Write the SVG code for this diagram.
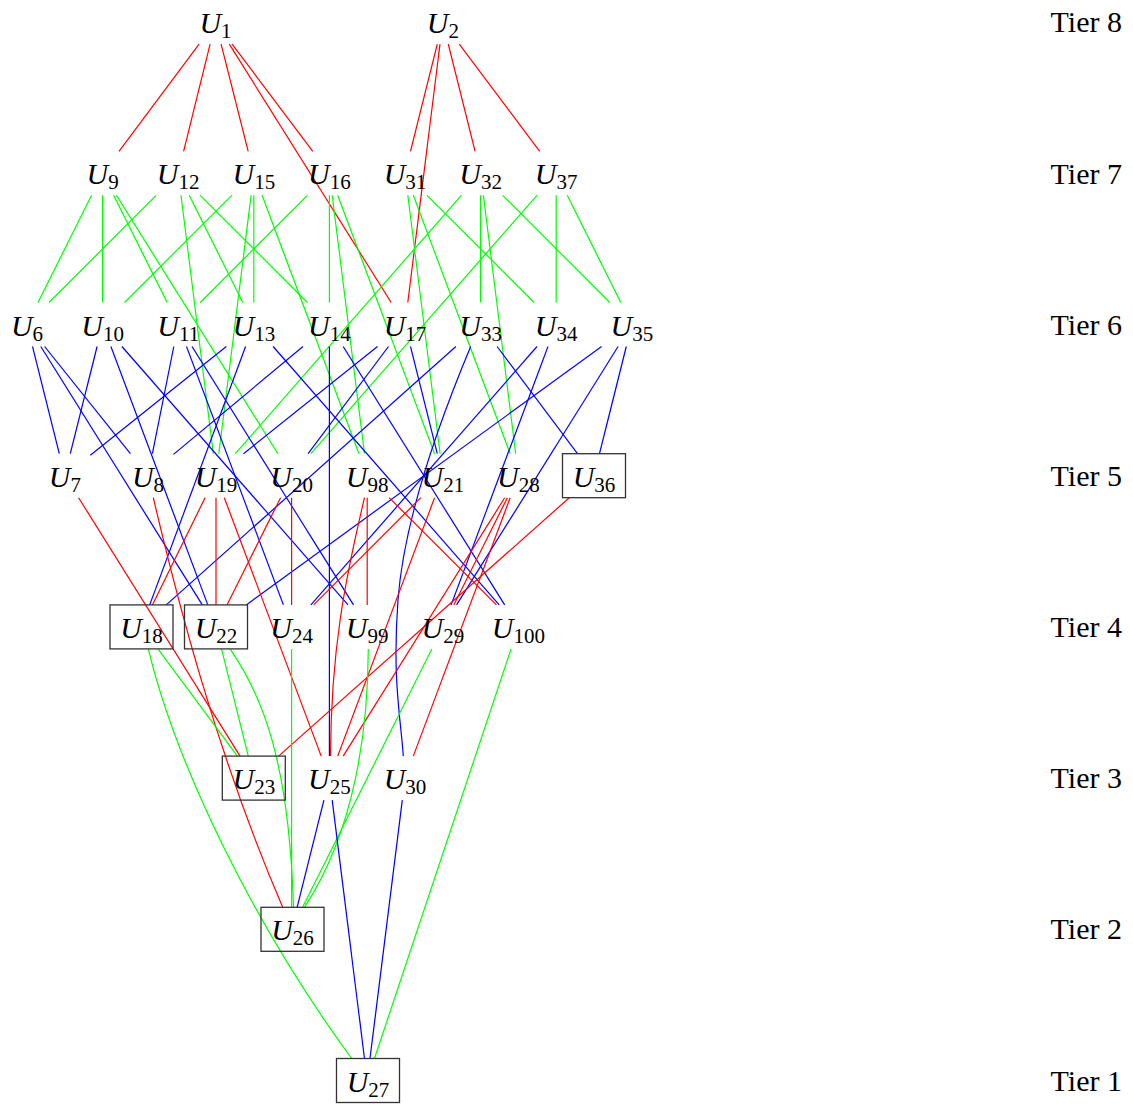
<svg xmlns="http://www.w3.org/2000/svg" width="1133" height="1106" viewBox="0 0 1133 1106">
<style>
.e line,.e path{fill:none;stroke-width:1.2}
.r{stroke:#ff0000}.g{stroke:#00ff00}.b{stroke:#0000ff}
.n{font-family:"Liberation Serif",serif;font-style:italic;font-size:30px;text-anchor:middle;fill:#000}
.s{font-style:normal;font-size:21px}
.t{font-family:"Liberation Serif",serif;font-size:30px;text-anchor:end;fill:#000}
.bx{fill:none;stroke:#333;stroke-width:1.3}
</style>
<rect width="1133" height="1106" fill="#fff"/>
<g id="connectors" class="e">
<line class="r" x1="199.1" y1="44.1" x2="119" y2="151.3"/>
<line class="r" x1="210.1" y1="44.1" x2="183.6" y2="151.3"/>
<line class="r" x1="221.1" y1="44.1" x2="248.2" y2="151.3"/>
<line class="r" x1="232.1" y1="44.1" x2="312.8" y2="151.3"/>
<line class="r" x1="229.3" y1="44.1" x2="391.2" y2="302.5"/>
<line class="r" x1="437.3" y1="44.1" x2="410.5" y2="151.3"/>
<line class="r" x1="440" y1="44.1" x2="407.8" y2="302.5"/>
<line class="r" x1="448.3" y1="44.1" x2="475.1" y2="151.3"/>
<line class="r" x1="459.3" y1="44.1" x2="539.7" y2="151.3"/>
<line class="g" x1="91.6" y1="195.3" x2="38" y2="302.5"/>
<line class="g" x1="102.6" y1="195.3" x2="102.6" y2="302.5"/>
<line class="g" x1="113.6" y1="195.3" x2="167.2" y2="302.5"/>
<line class="g" x1="116.4" y1="195.3" x2="277.9" y2="453.7"/>
<line class="g" x1="156.2" y1="195.3" x2="49" y2="302.5"/>
<line class="g" x1="181" y1="195.3" x2="213.3" y2="453.7"/>
<line class="g" x1="189.2" y1="195.3" x2="242.8" y2="302.5"/>
<line class="g" x1="200.2" y1="195.3" x2="307.4" y2="302.5"/>
<line class="g" x1="231.8" y1="195.3" x2="124.6" y2="302.5"/>
<line class="g" x1="251.1" y1="195.3" x2="218.8" y2="453.7"/>
<line class="g" x1="253.8" y1="195.3" x2="253.8" y2="302.5"/>
<line class="g" x1="262.1" y1="195.3" x2="359" y2="453.7"/>
<line class="g" x1="307.4" y1="195.3" x2="200.2" y2="302.5"/>
<line class="g" x1="329.4" y1="195.3" x2="329.4" y2="302.5"/>
<line class="g" x1="332.2" y1="195.3" x2="364.5" y2="453.7"/>
<line class="g" x1="337.7" y1="195.3" x2="434.6" y2="453.7"/>
<line class="g" x1="407.8" y1="195.3" x2="440.1" y2="453.7"/>
<line class="g" x1="413.3" y1="195.3" x2="510.2" y2="453.7"/>
<line class="g" x1="427" y1="195.3" x2="534.2" y2="302.5"/>
<line class="g" x1="461.4" y1="195.3" x2="235.3" y2="453.7"/>
<line class="g" x1="480.6" y1="195.3" x2="480.6" y2="302.5"/>
<line class="g" x1="483.4" y1="195.3" x2="515.7" y2="453.7"/>
<line class="g" x1="502.6" y1="195.3" x2="609.8" y2="302.5"/>
<line class="g" x1="537" y1="195.3" x2="310.9" y2="453.7"/>
<line class="g" x1="556.2" y1="195.3" x2="556.2" y2="302.5"/>
<line class="g" x1="567.2" y1="195.3" x2="620.8" y2="302.5"/>
<line class="b" x1="32.5" y1="346.5" x2="59.3" y2="453.7"/>
<line class="b" x1="40.8" y1="346.5" x2="202.3" y2="604.9"/>
<line class="b" x1="44.6" y1="346.5" x2="130.4" y2="453.7"/>
<line class="b" x1="97.1" y1="346.5" x2="70.3" y2="453.7"/>
<line class="b" x1="110.9" y1="346.5" x2="207.8" y2="604.9"/>
<line class="b" x1="121.9" y1="346.5" x2="348" y2="604.9"/>
<line class="b" x1="173.8" y1="346.5" x2="152.4" y2="453.7"/>
<line class="b" x1="186.5" y1="346.5" x2="283.4" y2="604.9"/>
<line class="b" x1="192" y1="346.5" x2="353.5" y2="604.9"/>
<line class="b" x1="226.3" y1="346.5" x2="90.3" y2="455.3"/>
<line class="b" x1="245.6" y1="346.5" x2="149.7" y2="604.9"/>
<line class="b" x1="273.1" y1="346.5" x2="499.2" y2="604.9"/>
<line class="b" x1="303" y1="346.5" x2="173.5" y2="454.4"/>
<line class="b" x1="329.4" y1="346.5" x2="329.4" y2="756.1"/>
<line class="b" x1="343.2" y1="346.5" x2="504.7" y2="604.9"/>
<line class="b" x1="377.5" y1="346.5" x2="243.5" y2="453.7"/>
<line class="b" x1="388.5" y1="346.5" x2="308.1" y2="453.7"/>
<line class="b" x1="410.5" y1="346.5" x2="437.3" y2="453.7"/>
<line class="b" x1="497.1" y1="346.5" x2="577.5" y2="453.7"/>
<line class="b" x1="455.9" y1="346.5" x2="166.2" y2="604.9"/>
<path class="b" d="M470.7 346.5 C440 420 404 520 398 600 S401 720 403.3 756.1"/>
<line class="b" x1="537" y1="346.5" x2="310.9" y2="604.9"/>
<line class="b" x1="548" y1="346.5" x2="451.1" y2="604.9"/>
<line class="b" x1="626.3" y1="346.5" x2="599.5" y2="453.7"/>
<line class="b" x1="601.6" y1="346.5" x2="246.3" y2="604.9"/>
<line class="b" x1="618.1" y1="346.5" x2="456.6" y2="604.9"/>
<line class="r" x1="78.6" y1="497.7" x2="240.1" y2="756.1"/>
<path class="r" d="M153.3 497.7 C175 590 215 750 282.7 907.3"/>
<line class="r" x1="205.1" y1="497.7" x2="152.4" y2="604.9"/>
<line class="r" x1="216" y1="497.7" x2="216" y2="604.9"/>
<line class="r" x1="224.3" y1="497.7" x2="321.2" y2="756.1"/>
<line class="r" x1="280.6" y1="497.7" x2="227" y2="604.9"/>
<line class="r" x1="291.6" y1="497.7" x2="291.6" y2="604.9"/>
<path class="r" d="M364.5 497.7 C345 580 331 650 330.5 756.1"/>
<line class="r" x1="367.2" y1="497.7" x2="367.2" y2="604.9"/>
<line class="r" x1="389.2" y1="497.7" x2="496.4" y2="604.9"/>
<line class="r" x1="420.8" y1="497.7" x2="313.6" y2="604.9"/>
<line class="r" x1="434.6" y1="497.7" x2="337.7" y2="756.1"/>
<line class="r" x1="504.7" y1="497.7" x2="343.2" y2="756.1"/>
<line class="r" x1="507.4" y1="497.7" x2="453.8" y2="604.9"/>
<line class="r" x1="510.2" y1="497.7" x2="413.3" y2="756.1"/>
<line class="r" x1="569.3" y1="497.7" x2="278.6" y2="756.1"/>
<line class="g" x1="157.9" y1="648.9" x2="237.4" y2="756.1"/>
<path class="g" d="M148.3 648.9 C175 760 250 920 351.7 1058.5"/>
<line class="g" x1="221.5" y1="648.9" x2="248.3" y2="756.1"/>
<path class="g" d="M230 648.9 C262 695 289 760 293.5 907.3"/>
<line class="g" x1="291.6" y1="648.9" x2="291.6" y2="907.3"/>
<path class="g" d="M368.3 648.9 C368 730 355 830 304.5 907.3"/>
<line class="g" x1="431.8" y1="648.9" x2="302.6" y2="907.3"/>
<line class="g" x1="511.1" y1="648.9" x2="374.5" y2="1058.5"/>
<line class="b" x1="323.9" y1="800.1" x2="297.1" y2="907.3"/>
<line class="b" x1="332.2" y1="800.1" x2="364.5" y2="1058.5"/>
<line class="b" x1="402.3" y1="800.1" x2="370" y2="1058.5"/>
</g>
<g id="U1"><text class="n" x="215.5" y="33.1">U<tspan class="s" dy="5">1</tspan></text></g>
<g id="U2"><text class="n" x="442.8" y="33.1">U<tspan class="s" dy="5">2</tspan></text></g>
<g id="U9"><text class="n" x="102.6" y="184.3">U<tspan class="s" dy="5">9</tspan></text></g>
<g id="U12"><text class="n" x="178.2" y="184.3">U<tspan class="s" dy="5">12</tspan></text></g>
<g id="U15"><text class="n" x="253.8" y="184.3">U<tspan class="s" dy="5">15</tspan></text></g>
<g id="U16"><text class="n" x="329.4" y="184.3">U<tspan class="s" dy="5">16</tspan></text></g>
<g id="U31"><text class="n" x="405" y="184.3">U<tspan class="s" dy="5">31</tspan></text></g>
<g id="U32"><text class="n" x="480.6" y="184.3">U<tspan class="s" dy="5">32</tspan></text></g>
<g id="U37"><text class="n" x="556.2" y="184.3">U<tspan class="s" dy="5">37</tspan></text></g>
<g id="U6"><text class="n" x="27" y="335.5">U<tspan class="s" dy="5">6</tspan></text></g>
<g id="U10"><text class="n" x="102.6" y="335.5">U<tspan class="s" dy="5">10</tspan></text></g>
<g id="U11"><text class="n" x="178.2" y="335.5">U<tspan class="s" dy="5">11</tspan></text></g>
<g id="U13"><text class="n" x="253.8" y="335.5">U<tspan class="s" dy="5">13</tspan></text></g>
<g id="U14"><text class="n" x="329.4" y="335.5">U<tspan class="s" dy="5">14</tspan></text></g>
<g id="U17"><text class="n" x="405" y="335.5">U<tspan class="s" dy="5">17</tspan></text></g>
<g id="U33"><text class="n" x="480.6" y="335.5">U<tspan class="s" dy="5">33</tspan></text></g>
<g id="U34"><text class="n" x="556.2" y="335.5">U<tspan class="s" dy="5">34</tspan></text></g>
<g id="U35"><text class="n" x="631.8" y="335.5">U<tspan class="s" dy="5">35</tspan></text></g>
<g id="U7"><text class="n" x="64.8" y="486.7">U<tspan class="s" dy="5">7</tspan></text></g>
<g id="U8"><text class="n" x="148" y="486.7">U<tspan class="s" dy="5">8</tspan></text></g>
<g id="U19"><text class="n" x="216" y="486.7">U<tspan class="s" dy="5">19</tspan></text></g>
<g id="U20"><text class="n" x="291.6" y="486.7">U<tspan class="s" dy="5">20</tspan></text></g>
<g id="U98"><text class="n" x="367.2" y="486.7">U<tspan class="s" dy="5">98</tspan></text></g>
<g id="U21"><text class="n" x="442.8" y="486.7">U<tspan class="s" dy="5">21</tspan></text></g>
<g id="U28"><text class="n" x="518.4" y="486.7">U<tspan class="s" dy="5">28</tspan></text></g>
<g id="U36"><rect class="bx" x="562.5" y="453.7" width="63" height="44"/><text class="n" x="594" y="486.7">U<tspan class="s" dy="5">36</tspan></text></g>
<g id="U18"><rect class="bx" x="110" y="604.9" width="63" height="44"/><text class="n" x="141.5" y="637.9">U<tspan class="s" dy="5">18</tspan></text></g>
<g id="U22"><rect class="bx" x="184.5" y="604.9" width="63" height="44"/><text class="n" x="216" y="637.9">U<tspan class="s" dy="5">22</tspan></text></g>
<g id="U24"><text class="n" x="291.6" y="637.9">U<tspan class="s" dy="5">24</tspan></text></g>
<g id="U99"><text class="n" x="367.2" y="637.9">U<tspan class="s" dy="5">99</tspan></text></g>
<g id="U29"><text class="n" x="442.8" y="637.9">U<tspan class="s" dy="5">29</tspan></text></g>
<g id="U100"><text class="n" x="518.4" y="637.9">U<tspan class="s" dy="5">100</tspan></text></g>
<g id="U23"><rect class="bx" x="222.3" y="756.1" width="63" height="44"/><text class="n" x="253.8" y="789.1">U<tspan class="s" dy="5">23</tspan></text></g>
<g id="U25"><text class="n" x="329.4" y="789.1">U<tspan class="s" dy="5">25</tspan></text></g>
<g id="U30"><text class="n" x="405" y="789.1">U<tspan class="s" dy="5">30</tspan></text></g>
<g id="U26"><rect class="bx" x="261" y="907.3" width="63" height="44"/><text class="n" x="292.5" y="940.3">U<tspan class="s" dy="5">26</tspan></text></g>
<g id="U27"><rect class="bx" x="336.5" y="1058.5" width="63" height="44"/><text class="n" x="368" y="1091.5">U<tspan class="s" dy="5">27</tspan></text></g>
<g id="tiers">
<text class="t" x="1122" y="32">Tier 8</text>
<text class="t" x="1122" y="184">Tier 7</text>
<text class="t" x="1122" y="335">Tier 6</text>
<text class="t" x="1122" y="486">Tier 5</text>
<text class="t" x="1122" y="637">Tier 4</text>
<text class="t" x="1122" y="788">Tier 3</text>
<text class="t" x="1122" y="939">Tier 2</text>
<text class="t" x="1122" y="1091">Tier 1</text>
</g>
</svg>
